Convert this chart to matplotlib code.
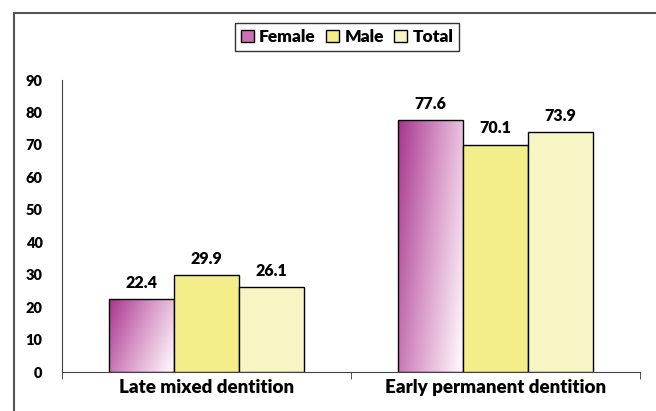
import matplotlib.pyplot as plt
import numpy as np
from matplotlib.patches import Rectangle, Patch
from matplotlib.colors import LinearSegmentedColormap

groups = ['Late mixed dentition', 'Early permanent dentition']
female = [22.4, 77.6]
male = [29.9, 70.1]
total = [26.1, 73.9]
series = ['Female', 'Male', 'Total']

plt.rcParams['font.family'] = ['Lato', 'DejaVu Sans']
plt.rcParams['font.weight'] = 'heavy'

fig = plt.figure(figsize=(6.56, 4.11), dpi=100)
ax = fig.add_axes([62/656, 39/411, 578/656, 292/411])

x = np.arange(len(groups))
w = 0.224
male_col = '#f4ee8a'
total_col = '#f8f5c4'
purple = LinearSegmentedColormap.from_list('fem', ['#a8358f', '#d898c8', '#fdf4fa'])

fem_bars = ax.bar(x - w, female, w, color='none', edgecolor='black', lw=1, zorder=3)
ax.bar(x, male, w, color=male_col, edgecolor='black', lw=1, zorder=3)
ax.bar(x + w, total, w, color=total_col, edgecolor='black', lw=1, zorder=3)

# diagonal gradient for the female bars (dark top-left, light bottom-right)
gx, gy = np.meshgrid(np.linspace(0, 1, 100), np.linspace(0, 1, 100))
grad = 0.75 * gx + 0.35 * gy
for b in fem_bars:
    im = ax.imshow(grad, cmap=purple, vmin=0, vmax=1.05, aspect='auto', origin='upper',
                   extent=[b.get_x(), b.get_x() + b.get_width(), 0, b.get_height()], zorder=2)
    im.set_clip_path(b)

for vals, off in [(female, -w), (male, 0), (total, w)]:
    for xi, v in zip(x, vals):
        ax.text(xi + off, v + 2.5, f'{v:.1f}', ha='center', va='bottom', fontsize=11.5)

ax.set_xlim(-0.5, 1.5)
ax.set_ylim(0, 90)
ax.set_yticks(range(0, 91, 10))
ax.tick_params(axis='y', length=0, pad=14, labelsize=10.5)
ax.set_xticks(x)
ax.set_xticklabels(groups, fontsize=13.5)
ax.tick_params(axis='x', which='major', length=0, pad=5)
ax.set_xticks([-0.5, 0.5, 1.5], minor=True)
ax.tick_params(axis='x', which='minor', length=5, direction='out', color='#333333')
for s in ['top', 'right']:
    ax.spines[s].set_visible(False)
for s in ['left', 'bottom']:
    ax.spines[s].set_color('#444444')

handles = [Patch(facecolor='#cc70b8', edgecolor='black', label='Female'),
           Patch(facecolor=male_col, edgecolor='black', label='Male'),
           Patch(facecolor=total_col, edgecolor='black', label='Total')]
leg = fig.legend(handles=handles, loc='center', bbox_to_anchor=(347/656, 1 - 37/411), ncol=3,
                 fontsize=12.5, frameon=True, fancybox=False, edgecolor='black',
                 handlelength=0.75, handleheight=0.75, handletextpad=0.3, columnspacing=0.6,
                 borderpad=0.35)
leg.get_frame().set_linewidth(1)

fig.patches.append(Rectangle((14/656, -0.1), 1.2, 1.1 - 13/411, transform=fig.transFigure,
                             fill=False, edgecolor='#555555', lw=1.5))

fig.savefig('out.png')
